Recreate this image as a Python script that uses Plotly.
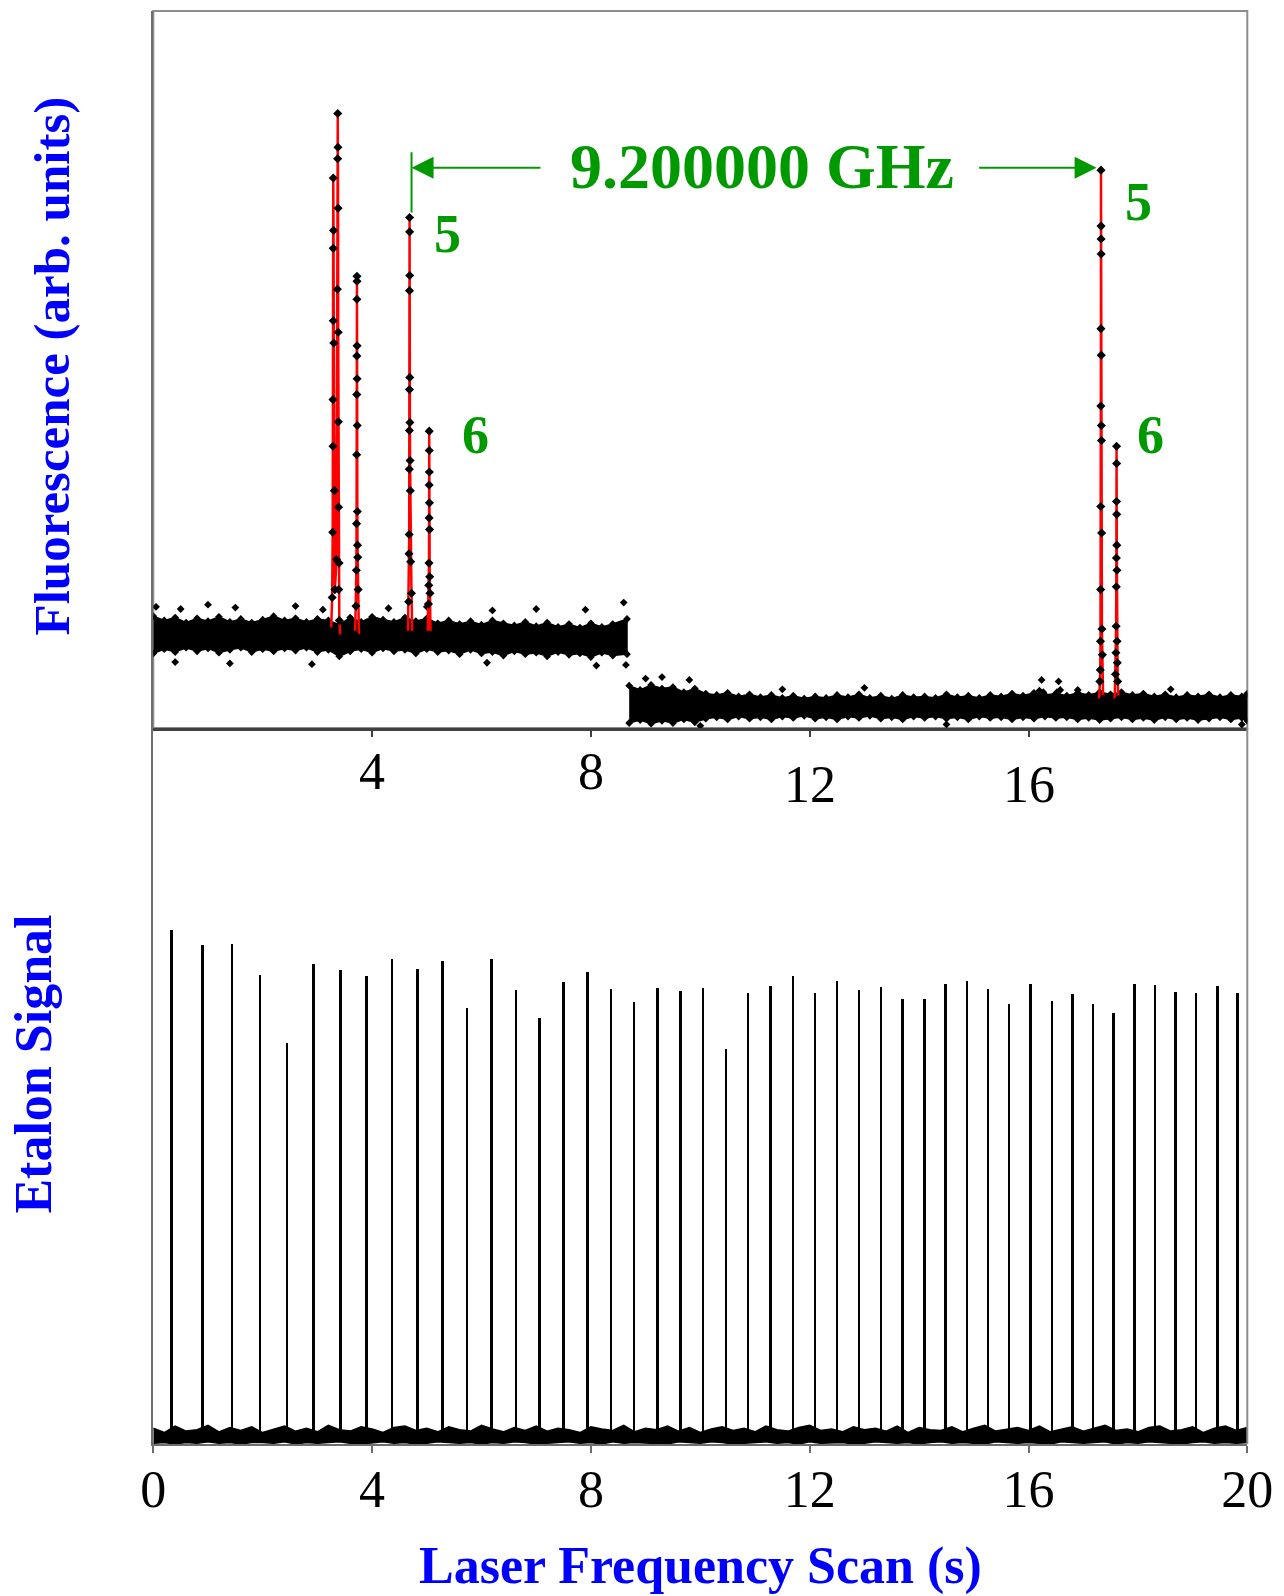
import plotly.graph_objects as go

# ---------------- data ----------------
# Fluorescence baseline, first part of the scan (upper / lower edge of the noise band)
SEG1_X = [0.0, 0.2, 0.4, 0.6, 0.8, 1.0, 1.2, 1.4, 1.6, 1.8, 2.0, 2.2, 2.4, 2.6, 2.8,
          3.0, 3.2, 3.4, 3.6, 3.8, 4.0, 4.2, 4.4, 4.6, 4.8, 5.0, 5.2, 5.4, 5.6, 5.8,
          6.0, 6.2, 6.4, 6.6, 6.8, 7.0, 7.2, 7.4, 7.6, 7.8, 8.0, 8.2, 8.4, 8.66]
SEG1_HI = [15.6, 15.0, 15.4, 14.7, 15.3, 14.9, 15.5, 14.8, 15.2, 14.7, 15.1, 15.6, 15.0, 15.3, 14.8,
           15.2, 15.0, 14.4, 15.4, 14.8, 15.5, 15.1, 14.8, 15.4, 14.9, 15.3, 14.6, 15.0, 14.5, 14.9,
           14.4, 15.0, 14.6, 14.3, 14.8, 14.2, 14.7, 14.1, 14.5, 14.0, 14.6, 14.1, 14.5, 15.2]
SEG1_LO = [10.4, 11.0, 10.6, 11.2, 10.7, 11.1, 10.5, 10.9, 11.2, 10.6, 11.0, 10.7, 11.1, 10.8, 11.2,
           10.6, 10.9, 10.0, 10.7, 11.0, 10.5, 11.1, 10.7, 10.9, 10.4, 11.0, 10.6, 10.8, 10.3, 10.9,
           10.4, 10.6, 10.1, 10.7, 10.3, 10.5, 10.0, 10.6, 10.2, 10.4, 9.9, 10.5, 10.1, 10.3]

# Fluorescence baseline, second part of the scan
SEG2_X = [8.7, 8.9, 9.1, 9.3, 9.5, 9.7, 9.9, 10.1, 10.3, 10.5, 10.7, 10.9, 11.1, 11.3, 11.5,
          11.7, 11.9, 12.1, 12.3, 12.5, 12.7, 12.9, 13.1, 13.3, 13.5, 13.7, 13.9, 14.1, 14.3, 14.5,
          14.7, 14.9, 15.1, 15.3, 15.5, 15.7, 15.9, 16.1, 16.3, 16.5, 16.7, 16.9, 17.1, 17.3, 17.5,
          17.7, 17.9, 18.1, 18.3, 18.5, 18.7, 18.9, 19.1, 19.3, 19.5, 19.7, 19.9, 20.0]
SEG2_HI = [5.9, 5.3, 6.0, 5.5, 5.7, 5.0, 5.5, 4.8, 4.6, 4.9, 4.4, 4.7, 4.3, 4.6, 4.2,
           4.5, 4.1, 4.4, 4.2, 4.6, 4.3, 4.7, 4.2, 4.5, 4.1, 4.6, 4.3, 4.4, 4.2, 4.7,
           4.3, 4.5, 4.2, 4.6, 4.4, 4.8, 4.5, 4.9, 4.6, 4.8, 4.5, 4.9, 4.6, 5.0, 4.7,
           5.0, 4.6, 4.8, 4.4, 4.7, 4.3, 4.6, 4.4, 4.7, 4.3, 4.6, 4.4, 4.8]
SEG2_LO = [0.7, 1.1, 0.6, 1.0, 0.7, 1.2, 0.8, 1.3, 1.5, 1.2, 1.6, 1.3, 1.5, 1.2, 1.6,
           1.4, 1.7, 1.3, 1.5, 1.2, 1.6, 1.4, 1.7, 1.3, 1.5, 1.2, 1.6, 1.4, 1.6, 1.3,
           1.5, 1.2, 1.6, 1.4, 1.5, 1.2, 1.5, 1.3, 1.6, 1.4, 1.5, 1.2, 1.4, 1.1, 1.3,
           1.5, 1.2, 1.4, 1.1, 1.5, 1.2, 1.4, 1.1, 1.3, 1.5, 1.2, 1.4, 1.0]

# scattered outlying points of the fluorescence baseline
OUT_X = [0.05, 0.5, 1.0, 1.5, 2.6, 3.1, 4.3, 5.0, 6.2, 7.0, 7.9, 8.6, 8.64, 0.4, 1.4, 2.9, 6.1, 8.1,
         9.0, 9.3, 9.8, 11.5, 13.0, 16.9, 18.6, 10.0, 14.5, 19.9]
OUT_Y = [16.9, 16.6, 17.2, 16.8, 17.0, 16.5, 16.7, 16.9, 16.4, 16.6, 16.5, 17.5, 8.8, 9.2, 9.0, 8.9, 9.1, 8.7,
         6.9, 7.1, 6.7, 5.4, 5.6, 5.3, 5.4, 0.3, 0.5, 0.5]

# small features near 16.2 - 16.6 s
BUMP_X = [16.20, 16.24, 16.27, 16.52, 16.55, 16.58]
BUMP_Y = [5.2, 6.7, 5.0, 5.0, 6.5, 5.3]

# fluorescence peaks (data points in scan order)
PA_X = [3.25, 3.27, 3.28, 3.285, 3.285, 3.29, 3.29, 3.29, 3.295, 3.30, 3.31, 3.32, 3.35, 3.365,
        3.37, 3.372, 3.375, 3.378, 3.38, 3.383, 3.386, 3.39, 3.395, 3.40, 3.42]
PA_Y = [13.5, 18.2, 27.3, 39.3, 45.8, 56.8, 66.9, 76.7, 69.4, 53.7, 33.1, 19.3, 23.5, 61.2,
        79.4, 85.7, 81.0, 72.5, 55.2, 42.7, 30.8, 19.3, 23.0, 15.0, 12.5]
PB_X = [3.69, 3.705, 3.712, 3.716, 3.718, 3.72, 3.721, 3.722, 3.723, 3.724, 3.725, 3.726,
        3.728, 3.73, 3.733, 3.737, 3.745, 3.76]
PB_Y = [13.0, 17.0, 22.0, 28.5, 38.1, 46.5, 51.9, 59.8, 63.0, 62.3, 53.3, 48.7,
        42.2, 30.2, 25.5, 23.8, 19.3, 12.5]
PC_X = [4.655, 4.668, 4.674, 4.678, 4.68, 4.682, 4.683, 4.684, 4.685, 4.686, 4.687, 4.689,
        4.691, 4.694, 4.698, 4.705, 4.72, 4.735]
PC_Y = [13.0, 17.6, 24.3, 27.0, 36.1, 41.5, 47.2, 61.0, 71.2, 69.2, 63.1, 48.9,
        42.6, 37.3, 33.1, 23.2, 18.8, 13.0]
PD_X = [5.015, 5.03, 5.036, 5.04, 5.042, 5.043, 5.044, 5.045, 5.046, 5.048, 5.05, 5.053, 5.058, 5.068]
PD_Y = [13.0, 17.3, 19.9, 23.0, 29.3, 33.9, 41.4, 38.7, 35.7, 31.4, 27.7, 21.1, 18.8, 13.0]
PE_X = [17.29, 17.305, 17.312, 17.316, 17.319, 17.321, 17.323, 17.324, 17.325, 17.326, 17.327,
        17.328, 17.33, 17.332, 17.334, 17.337, 17.342, 17.35, 17.365]
PE_Y = [3.5, 6.5, 8.1, 12.1, 19.3, 30.9, 44.9, 55.7, 77.8, 70.0, 68.2,
        66.1, 52.0, 42.2, 40.1, 27.2, 13.8, 10.2, 4.0]
PF_X = [17.575, 17.59, 17.598, 17.602, 17.605, 17.607, 17.609, 17.61, 17.611, 17.612, 17.614,
        17.616, 17.619, 17.623, 17.63, 17.645]
PF_Y = [3.5, 7.5, 10.5, 14.2, 19.7, 23.7, 31.6, 39.3, 36.9, 29.8, 25.5,
        22.0, 12.1, 9.1, 6.5, 4.0]
PEAKS = [(PA_X, PA_Y), (PB_X, PB_Y), (PC_X, PC_Y), (PD_X, PD_Y), (PE_X, PE_Y), (PF_X, PF_Y)]

# etalon transmission peaks
ETALON_X = [0.336, 0.901, 1.442, 1.953, 2.453, 2.938, 3.425, 3.905, 4.374, 4.836, 5.292, 5.743,
            6.186, 6.637, 7.069, 7.507, 7.945, 8.370, 8.790, 9.223, 9.642, 10.055, 10.474, 10.876,
            11.290, 11.697, 12.099, 12.507, 12.909, 13.310, 13.704, 14.100, 14.489, 14.880, 15.268,
            15.651, 16.040, 16.431, 16.807, 17.184, 17.562, 17.945, 18.316, 18.693, 19.064, 19.458,
            19.830]
ETALON_H = [71.8, 69.7, 69.8, 65.5, 56.0, 67.1, 66.2, 65.3, 67.8, 66.3, 67.5, 60.9,
            67.7, 63.4, 59.5, 64.5, 65.9, 63.5, 61.7, 63.7, 63.3, 63.7, 55.1, 63.0,
            64.0, 65.4, 63.0, 64.7, 63.4, 63.8, 62.2, 62.1, 64.3, 64.7, 63.5,
            61.5, 64.3, 61.9, 62.8, 61.5, 60.2, 64.2, 64.1, 63.1, 63.0, 64.0,
            63.0]
ETALON_BASE = 1.0

# etalon baseline noise band
ETB_X = [0.0, 0.2, 0.4, 0.6, 0.8, 1.0, 1.2, 1.4, 1.6, 1.8,
         2.0, 2.2, 2.4, 2.6, 2.8, 3.0, 3.2, 3.4, 3.6, 3.8,
         4.0, 4.2, 4.4, 4.6, 4.8, 5.0, 5.2, 5.4, 5.6, 5.8,
         6.0, 6.2, 6.4, 6.6, 6.8, 7.0, 7.2, 7.4, 7.6, 7.8,
         8.0, 8.2, 8.4, 8.6, 8.8, 9.0, 9.2, 9.4, 9.6, 9.8,
         10.0, 10.2, 10.4, 10.6, 10.8, 11.0, 11.2, 11.4, 11.6, 11.8,
         12.0, 12.2, 12.4, 12.6, 12.8, 13.0, 13.2, 13.4, 13.6, 13.8,
         14.0, 14.2, 14.4, 14.6, 14.8, 15.0, 15.2, 15.4, 15.6, 15.8,
         16.0, 16.2, 16.4, 16.6, 16.8, 17.0, 17.2, 17.4, 17.6, 17.8,
         18.0, 18.2, 18.4, 18.6, 18.8, 19.0, 19.2, 19.4, 19.6, 19.8,
         20.0]
ETB_HI = [2.2, 1.6, 2.5, 1.8, 2.0, 2.6, 1.7, 2.3, 1.9, 2.4,
          1.6, 2.1, 2.5, 1.8, 2.2, 1.7, 2.6, 2.0, 1.8, 2.4,
          2.1, 1.6, 2.3, 2.5, 1.9, 2.2, 1.7, 2.4, 2.0, 1.8,
          2.6, 2.1, 1.7, 2.3, 1.9, 2.5, 1.8, 2.2, 2.0, 1.6,
          2.4, 2.1, 1.9, 2.6, 1.7, 2.2, 2.0, 2.5, 1.8, 2.3,
          1.6, 2.1, 2.4, 1.9, 2.2, 1.7, 2.5, 2.0, 1.8, 2.3,
          2.6, 1.9, 2.1, 1.7, 2.4, 2.0, 2.2, 1.8, 2.5, 1.6,
          2.3, 2.0, 1.9, 2.4, 1.7, 2.2, 2.6, 1.8, 2.1, 2.3,
          1.9, 2.5, 1.7, 2.0, 2.4, 1.8, 2.2, 2.6, 1.9, 2.1,
          1.7, 2.3, 2.5, 1.8, 2.0, 2.4, 1.6, 2.2, 2.5, 1.9,
          2.3]
ETB_LO = [0.1, 0.2, 0.0, 0.2, 0.1, 0.3, 0.1, 0.2, 0.0, 0.2,
          0.2, 0.1, 0.3, 0.0, 0.2, 0.1, 0.2, 0.3, 0.1, 0.0,
          0.2, 0.3, 0.1, 0.2, 0.0, 0.1, 0.3, 0.2, 0.1, 0.2,
          0.0, 0.2, 0.1, 0.3, 0.2, 0.0, 0.1, 0.2, 0.3, 0.1,
          0.2, 0.0, 0.3, 0.1, 0.2, 0.2, 0.1, 0.0, 0.3, 0.2,
          0.1, 0.3, 0.2, 0.0, 0.1, 0.2, 0.3, 0.1, 0.2, 0.0,
          0.3, 0.1, 0.2, 0.2, 0.0, 0.1, 0.3, 0.2, 0.1, 0.2,
          0.0, 0.2, 0.3, 0.1, 0.2, 0.1, 0.0, 0.3, 0.2, 0.1,
          0.2, 0.1, 0.0, 0.3, 0.2, 0.1, 0.2, 0.3, 0.0, 0.2,
          0.1, 0.3, 0.2, 0.1, 0.0, 0.2, 0.3, 0.1, 0.2, 0.1,
          0.2]

X_TICKS = [0, 4, 8, 12, 16, 20]
TOP_TICKS = [4, 8, 12, 16]

# ---------------- style ----------------
FONT = "Liberation Serif"
GREEN = "#009a00"
BLUE = "#0000ff"
W, H = 1284, 1596
X0, X1 = 153.3 / W, 1247.3 / W
YMID = 1 - 728 / H
YTOP = 1 - 11 / H
YBOT = 1 - 1444 / H


def band(xs, hi, lo, xa, ya):
    pts = list(zip(xs, hi, lo))
    px = [p[0] for p in pts] + [p[0] for p in reversed(pts)]
    py = [p[1] for p in pts] + [p[2] for p in reversed(pts)]
    return go.Scatter(x=px, y=py, mode="lines", fill="toself", fillcolor="black",
                      line=dict(color="black", width=1.5), xaxis=xa, yaxis=ya,
                      hoverinfo="skip")


def edge_markers(xs, vals, xa, ya, size=6):
    return go.Scatter(x=list(xs), y=list(vals), mode="markers", xaxis=xa, yaxis=ya,
                      marker=dict(symbol="diamond", size=size, color="black"),
                      hoverinfo="skip")


fig = go.Figure()

# --- top panel: fluorescence ---
for sx, hi, lo in [(SEG1_X, SEG1_HI, SEG1_LO), (SEG2_X, SEG2_HI, SEG2_LO)]:
    fig.add_trace(band(sx, hi, lo, "x", "y"))
    fig.add_trace(edge_markers(sx, hi, "x", "y"))
    fig.add_trace(edge_markers(sx, lo, "x", "y"))
fig.add_trace(edge_markers(OUT_X, OUT_Y, "x", "y"))
fig.add_trace(edge_markers(BUMP_X, BUMP_Y, "x", "y"))
for px, py in PEAKS:
    fig.add_trace(go.Scatter(x=px, y=py, mode="lines+markers", xaxis="x", yaxis="y",
                             line=dict(color="red", width=2.5),
                             marker=dict(symbol="diamond", size=7, color="black")))

# --- bottom panel: etalon ---
fig.add_trace(go.Bar(x=ETALON_X, y=[h - ETALON_BASE for h in ETALON_H], base=ETALON_BASE,
                     width=0.045, marker=dict(color="black", line=dict(width=0)),
                     xaxis="x2", yaxis="y2"))
fig.add_trace(band(ETB_X, ETB_HI, ETB_LO, "x2", "y2"))

axis_common = dict(showgrid=False, zeroline=False, fixedrange=True, automargin=False)
fig.update_layout(
    width=W, height=H, margin=dict(l=0, r=0, t=0, b=0, pad=0, autoexpand=False),
    autosize=False,
    paper_bgcolor="white", plot_bgcolor="white", showlegend=False, bargap=0,
    xaxis=dict(domain=[X0, X1], range=[0, 20], anchor="y", showline=True,
               linecolor="#404040", linewidth=3, ticks="outside", ticklen=6,
               tickcolor="#404040", tickwidth=1.5, tickvals=TOP_TICKS,
               showticklabels=False, **axis_common),
    yaxis=dict(domain=[YMID, YTOP], range=[0, 100], anchor="x", showline=True,
               linecolor="#6e6e6e", linewidth=2, showticklabels=False, ticks="",
               **axis_common),
    xaxis2=dict(domain=[X0, X1], range=[0, 20], anchor="y2", showline=True,
                linecolor="#6e6e6e", linewidth=2, ticks="outside", ticklen=7,
                tickcolor="#6e6e6e", tickwidth=1.5, tickvals=X_TICKS,
                ticktext=[str(v) for v in X_TICKS], ticklabelstandoff=-8,
                tickfont=dict(family=FONT, size=52, color="black"), **axis_common),
    yaxis2=dict(domain=[YBOT, YMID], range=[0, 100], anchor="x2", showline=True,
                linecolor="#6e6e6e", linewidth=2, showticklabels=False, ticks="",
                **axis_common),
)

# frame lines (top and right borders)
fig.add_shape(type="rect", xref="x domain", yref="y domain", x0=0, x1=1, y0=0, y1=1,
              line=dict(color="#8c8c8c", width=2), layer="below")
fig.add_shape(type="line", xref="x2 domain", yref="y2 domain", x0=1, x1=1, y0=0, y1=1,
              line=dict(color="#8c8c8c", width=2))

# interval marker and arrows
fig.add_shape(type="line", xref="x", yref="y", x0=4.721, x1=4.721, y0=71.9, y1=80.3,
              line=dict(color=GREEN, width=2))
for tip, tail in [(4.721, 7.106), (17.245, 15.07)]:
    fig.add_annotation(x=tip, y=78.15, ax=tail, ay=78.15, xref="x", yref="y",
                       axref="x", ayref="y", text="", showarrow=True, arrowhead=2,
                       arrowsize=2.2, arrowwidth=2, arrowcolor=GREEN, standoff=0)

CM = dict(showarrow=False, xanchor="center", yanchor="middle")
green_font = dict(family=FONT, size=64, color=GREEN, weight="bold")
fig.add_annotation(x=11.12, y=78.3, xref="x", yref="y", text="9.200000 GHz",
                   font=green_font, **CM)
label_font = dict(family=FONT, size=54, color=GREEN, weight="bold")
for lx, ly, txt in [(5.383, 68.9, "5"), (18.005, 73.3, "5"), (5.898, 40.9, "6"), (18.234, 40.8, "6")]:
    fig.add_annotation(x=lx, y=ly, xref="x", yref="y", text=txt, font=label_font, **CM)

# top panel tick labels
tick_font = dict(family=FONT, size=52, color="black")
for tv in TOP_TICKS:
    ypix = 772.0 if tv < 10 else 784.0
    fig.add_annotation(x=tv, y=1 - ypix / H, xref="x", yref="paper", text=str(tv),
                       font=tick_font, **CM)

# axis titles
title_font = dict(family=FONT, size=52, color=BLUE, weight="bold")
fig.add_annotation(x=700.3 / W, y=1 - 1566 / H, xref="paper", yref="paper",
                   text="Laser Frequency Scan (s)", font=title_font, **CM)
fig.add_annotation(x=51 / W, y=1 - 366.5 / H, xref="paper", yref="paper",
                   text="Fluorescence (arb. units)", textangle=-90,
                   font=dict(family=FONT, size=51, color=BLUE, weight="bold"), **CM)
fig.add_annotation(x=32.6 / W, y=1 - 1064 / H, xref="paper", yref="paper",
                   text="Etalon Signal", textangle=-90, font=title_font, **CM)

fig.write_html("out.html", config={"displayModeBar": False},
               post_script="document.body.style.margin='0px';")
